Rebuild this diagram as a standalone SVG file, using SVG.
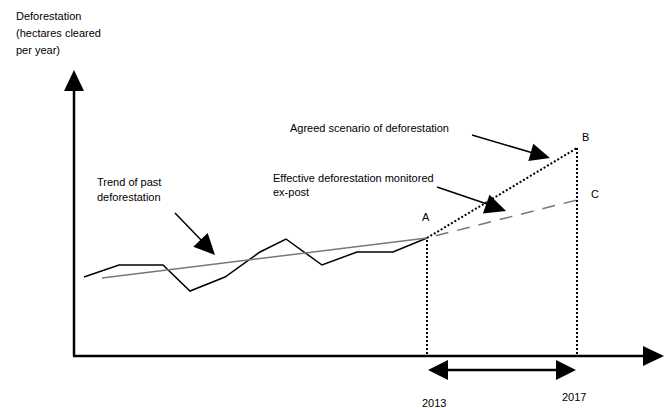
<svg xmlns="http://www.w3.org/2000/svg" width="670" height="408" viewBox="0 0 670 408">
<style>
text{font-family:"Liberation Sans",Arial,sans-serif;font-size:11px;fill:#000}
.axis{stroke:#000;stroke-width:2.5;fill:none}
.ln{stroke:#000;stroke-width:1.5;fill:none}
.trend{stroke:#777;stroke-width:1.5;fill:none}
.dot{stroke:#000;stroke-width:2;stroke-dasharray:2 2;fill:none}
.dash{stroke:#777;stroke-width:1.5;stroke-dasharray:13 9;stroke-dashoffset:13;fill:none}
.head{fill:#000;stroke:none}
</style>
<rect width="670" height="408" fill="#fff"/>
<g id="axes">
<line class="axis" x1="74" y1="356" x2="74" y2="88"/>
<polygon class="head" points="74,70 64,91 84,91"/>
<line class="axis" x1="73" y1="356" x2="646" y2="356"/>
<polygon class="head" points="664,356 643,346 643,366"/>
<text x="16" y="20">Deforestation</text>
<text x="16" y="37">(hectares cleared</text>
<text x="16" y="54">per year)</text>
</g>
<g id="series">
<polyline class="ln" points="84,277 119,265 163,265 190,291 225,277 260,252 286,239 322,265 357,252 393,252 427,238"/>
<line class="trend" x1="102" y1="278" x2="427" y2="238"/>
<line class="dot" x1="427" y1="238" x2="577" y2="148"/>
<line class="dash" x1="427" y1="238" x2="577" y2="200"/>
<line class="dot" x1="427" y1="240" x2="427" y2="356"/>
<line class="dot" x1="577" y1="148" x2="577" y2="356"/>
</g>
<g id="labels">
<text x="422" y="221">A</text>
<text x="582" y="141">B</text>
<text x="591" y="198">C</text>
<text x="97" y="186">Trend of past</text>
<text x="97" y="201">deforestation</text>
<text x="290" y="132">Agreed scenario of deforestation</text>
<text x="273" y="182">Effective deforestation monitored</text>
<text x="273" y="196">ex-post</text>
<text x="422" y="407">2013</text>
<text x="562" y="401">2017</text>
</g>
<g id="connectors">
<line class="ln" x1="175" y1="213" x2="203" y2="242"/>
<polygon class="head" points="215,255 193.3,246.7 207.7,232.9"/>
<line class="ln" x1="472" y1="135" x2="533" y2="153"/>
<polygon class="head" points="550,158 528.3,160.9 533.3,143.7"/>
<line class="ln" x1="437" y1="187" x2="490" y2="205"/>
<polygon class="head" points="506,211 482.9,213.6 489.5,194.7"/>
<line class="axis" x1="445" y1="370" x2="559" y2="370"/>
<polygon class="head" points="428,370 448,360 448,380"/>
<polygon class="head" points="576,370 556,360 556,380"/>
</g>
</svg>
